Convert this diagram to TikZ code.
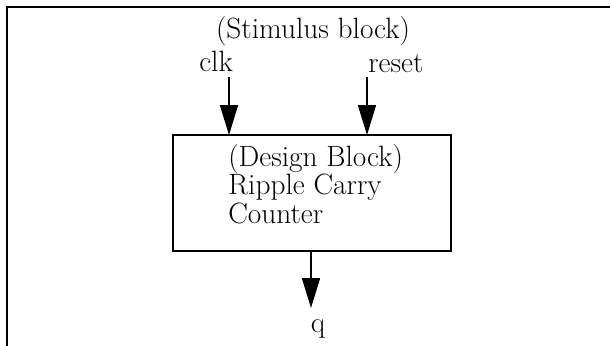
\documentclass[tikz,border=0pt]{standalone}
\usetikzlibrary{arrows.meta}
\begin{document}
\begin{tikzpicture}[x=0.75pt,y=-0.75pt,
  lbl/.style={inner sep=0pt, font=\fontsize{22}{26}\selectfont},
  arr/.style={-{Triangle[width=13.5pt,length=22.5pt]}, line width=1.2pt},
  frame/.style={line width=1.5pt}]
\useasboundingbox (0,0) rectangle (610,346);
\draw[frame] (7,346) -- (7,7) -- (610,7);
\node[draw, frame, inner sep=0pt, outer sep=0pt, anchor=north west,
      minimum width=208.5pt, minimum height=87pt] (dut) at (173,135) {};
\node[lbl, anchor=base] (stim) at (313,39) {(Stimulus block)};
\node[lbl, anchor=base west] (clk) at (199,72) {clk};
\node[lbl, anchor=base west] (rst) at (368,73) {reset};
\node[lbl, anchor=base west] (d1) at (228,166) {(Design Block)};
\node[lbl, anchor=base west] (d2) at (228,194) {Ripple Carry};
\node[lbl, anchor=base west] (d3) at (228,223) {Counter};
\node[lbl, anchor=base] (q) at (318,332) {q};
\coordinate (clkin) at (229,77);
\coordinate (rstin) at (367,77);
\coordinate (qout) at (311,251);
\coordinate (qend) at (311,308);
\draw[arr] (clkin) -- (clkin |- dut.north);
\draw[arr] (rstin) -- (rstin |- dut.north);
\draw[arr] (qout) -- (qend);
\end{tikzpicture}
\end{document}
